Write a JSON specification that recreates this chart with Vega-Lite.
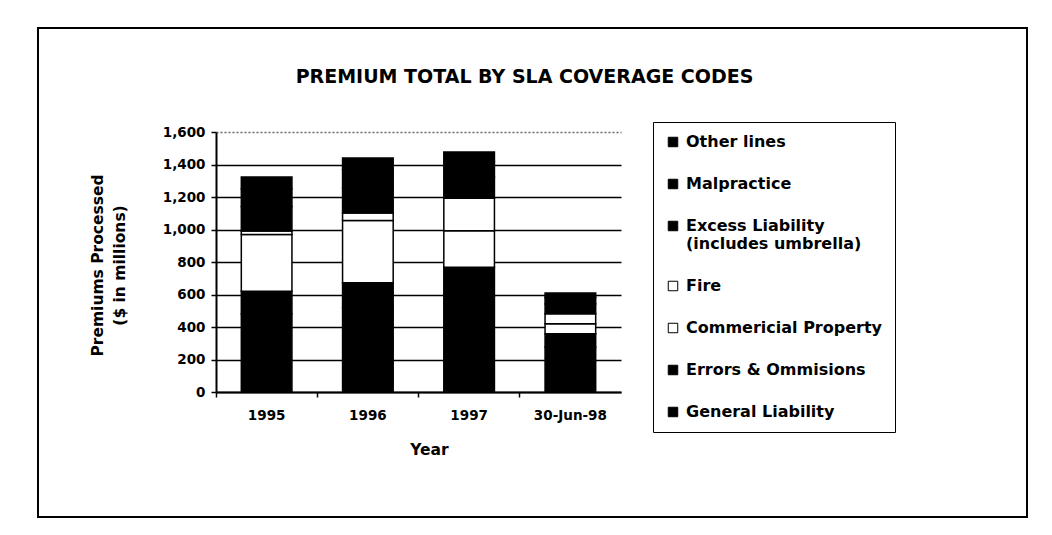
{
  "$schema": "https://vega.github.io/schema/vega-lite/v6.json",
  "width": 989,
  "height": 489,
  "autosize": {"type": "none"},
  "padding": {"left": 38, "top": 28, "right": 25, "bottom": 18},
  "background": "white",
  "title": {
    "text": "PREMIUM TOTAL BY SLA COVERAGE CODES",
    "font": "DejaVu Sans",
    "fontSize": 19,
    "fontWeight": "bold",
    "color": "black",
    "anchor": "middle",
    "frame": "group",
    "baseline": "alphabetic",
    "offset": -74,
    "dx": -8
  },
  "data": {
    "values": [
      {"year": "1995", "coverage": "General Liability", "premium": 480},
      {"year": "1995", "coverage": "Errors & Ommisions", "premium": 140},
      {"year": "1995", "coverage": "Commericial Property", "premium": 350},
      {"year": "1995", "coverage": "Fire", "premium": 21},
      {"year": "1995", "coverage": "Excess Liability (includes umbrella)", "premium": 150},
      {"year": "1995", "coverage": "Malpractice", "premium": 110},
      {"year": "1995", "coverage": "Other lines", "premium": 72},
      {"year": "1996", "coverage": "General Liability", "premium": 520},
      {"year": "1996", "coverage": "Errors & Ommisions", "premium": 152},
      {"year": "1996", "coverage": "Commericial Property", "premium": 384},
      {"year": "1996", "coverage": "Fire", "premium": 45},
      {"year": "1996", "coverage": "Excess Liability (includes umbrella)", "premium": 155},
      {"year": "1996", "coverage": "Malpractice", "premium": 112},
      {"year": "1996", "coverage": "Other lines", "premium": 72},
      {"year": "1997", "coverage": "General Liability", "premium": 590},
      {"year": "1997", "coverage": "Errors & Ommisions", "premium": 178},
      {"year": "1997", "coverage": "Commericial Property", "premium": 224},
      {"year": "1997", "coverage": "Fire", "premium": 201},
      {"year": "1997", "coverage": "Excess Liability (includes umbrella)", "premium": 130},
      {"year": "1997", "coverage": "Malpractice", "premium": 95},
      {"year": "1997", "coverage": "Other lines", "premium": 59},
      {"year": "30-Jun-98", "coverage": "General Liability", "premium": 275},
      {"year": "30-Jun-98", "coverage": "Errors & Ommisions", "premium": 84},
      {"year": "30-Jun-98", "coverage": "Commericial Property", "premium": 61},
      {"year": "30-Jun-98", "coverage": "Fire", "premium": 61},
      {"year": "30-Jun-98", "coverage": "Excess Liability (includes umbrella)", "premium": 60},
      {"year": "30-Jun-98", "coverage": "Malpractice", "premium": 40},
      {"year": "30-Jun-98", "coverage": "Other lines", "premium": 28}
    ]
  },
  "transform": [
    {"calculate": "indexof(['General Liability','Errors & Ommisions','Commericial Property','Fire','Excess Liability (includes umbrella)','Malpractice','Other lines'], datum.coverage)", "as": "stack_order"}
  ],
  "mark": {"type": "bar", "stroke": "black", "strokeWidth": 1.5},
  "encoding": {
    "x": {
      "field": "year",
      "type": "nominal",
      "sort": null,
      "scale": {"range": [178, 583], "paddingInner": 0.5, "paddingOuter": 0.25},
      "axis": {
        "offset": -125,
        "bandPosition": -0.5,
        "labelAngle": 0,
        "domainColor": "black",
        "domainWidth": 2,
        "tickColor": "black",
        "tickWidth": 1.5,
        "tickSize": 5,
        "labelFont": "DejaVu Sans",
        "labelFontWeight": "bold",
        "labelFontSize": 13.5,
        "labelColor": "black",
        "labelPadding": 11,
        "grid": false,
        "title": "Year",
        "titleFont": "DejaVu Sans",
        "titleFontWeight": "bold",
        "titleFontSize": 15.5,
        "titleColor": "black",
        "titleBaseline": "alphabetic",
        "titleX": 391,
        "titleY": 62
      }
    },
    "y": {
      "field": "premium",
      "type": "quantitative",
      "stack": "zero",
      "scale": {"domain": [0, 1600], "range": [364, 104], "nice": false},
      "axis": {
        "offset": -178,
        "values": [0, 200, 400, 600, 800, 1000, 1200, 1400, 1600],
        "format": ",d",
        "domainColor": "black",
        "domainWidth": 2,
        "tickColor": "black",
        "tickWidth": 1.5,
        "tickSize": 5,
        "labelFont": "DejaVu Sans",
        "labelFontWeight": "bold",
        "labelFontSize": 13.5,
        "labelColor": "black",
        "labelPadding": 6,
        "grid": true,
        "gridColor": {"condition": {"test": "datum.value === 1600", "value": "#666666"}, "value": "black"},
        "gridWidth": 1.5,
        "gridDash": {"condition": {"test": "datum.value === 1600", "value": [2, 2]}, "value": []},
        "title": ["Premiums Processed", "($ in millions)"],
        "titleFont": "DejaVu Sans",
        "titleFontWeight": "bold",
        "titleFontSize": 15.5,
        "titleColor": "black",
        "titleLineHeight": 22,
        "titleBaseline": "alphabetic",
        "titleAngle": 270,
        "titleX": -114,
        "titleY": 237
      }
    },
    "color": {
      "field": "coverage",
      "type": "nominal",
      "scale": {
        "domain": ["Other lines", "Malpractice", "Excess Liability (includes umbrella)", "Fire", "Commericial Property", "Errors & Ommisions", "General Liability"],
        "range": ["black", "black", "black", "white", "white", "black", "black"]
      },
      "legend": {
        "orient": "none",
        "legendX": 615,
        "legendY": 94,
        "title": null,
        "strokeColor": "black",
        "padding": 12,
        "symbolType": "square",
        "symbolSize": 90,
        "symbolStrokeColor": "black",
        "symbolStrokeWidth": 1,
        "labelFont": "DejaVu Sans",
        "labelFontWeight": "bold",
        "labelFontSize": 16,
        "labelColor": "black",
        "labelOffset": 5,
        "labelLimit": 400,
        "rowPadding": 26,
        "labelExpr": "datum.label == 'Excess Liability (includes umbrella)' ? ['Excess Liability', '(includes umbrella)'] : datum.label"
      }
    },
    "order": {"field": "stack_order", "type": "quantitative"}
  },
  "config": {
    "view": {"stroke": "black", "strokeWidth": 2},
    "font": "DejaVu Sans"
  }
}
